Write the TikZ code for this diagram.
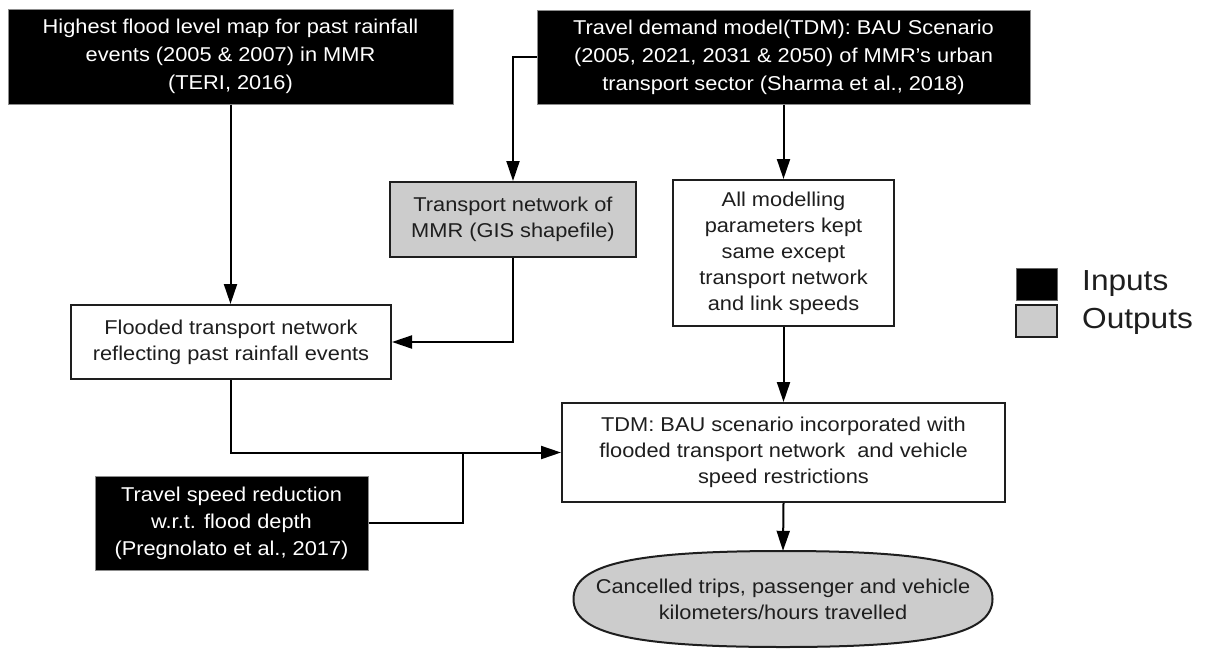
\documentclass[tikz,border=0pt]{standalone}
\usepackage{fontspec}
\setmainfont[FakeStretch=1.09]{Liberation Sans}
\usetikzlibrary{arrows.meta,shapes.geometric,calc}
\definecolor{boxgray}{HTML}{CCCCCC}
\definecolor{txt}{HTML}{1E1E1E}
\tikzset{
  base/.style={inner sep=0pt, align=center, font=\fontsize{20}{26}\selectfont},
  inbox/.style={base, fill=black, draw=black!45, line width=1pt, text=white, font=\fontsize{20}{28}\selectfont},
  wbox/.style={base, fill=white, draw=txt, line width=2pt, text=txt},
  gbox/.style={base, fill=boxgray, draw=txt, line width=2pt, text=txt},
  conn/.style={line width=2pt, draw=black},
  arr/.style={conn, -{Triangle[length=20pt,width=13pt]}}
}
\begin{document}
\begin{tikzpicture}[x=1pt,y=-1pt]
\useasboundingbox (0,0) rectangle (1207,648);
\fill[white] (0,0) rectangle (1207,648);

\node[inbox, minimum width=445pt, minimum height=95pt] (A) at (230.5,56.5)
  {Highest flood level map for past rainfall\\events (2005 \& 2007) in MMR\\(TERI, 2016)};
\node[inbox, minimum width=493pt, minimum height=94pt] (B) at (783.5,57)
  {Travel demand model(TDM): BAU Scenario\\(2005, 2021, 2031 \& 2050) of MMR's urban\\transport sector (Sharma et al., 2018)};
\node[gbox, minimum width=246pt, minimum height=75pt] (C) at (513,219.5)
  {Transport network of\\MMR (GIS shapefile)};
\node[wbox, minimum width=221pt, minimum height=146pt] (D) at (783.5,253)
  {All modelling\\parameters kept\\same except\\transport network\\and link speeds};
\node[wbox, minimum width=320pt, minimum height=74pt] (F) at (231,342)
  {Flooded transport network\\reflecting past rainfall events};
\node[wbox, minimum width=443pt, minimum height=99pt] (E) at (783.5,452.5)
  {TDM: BAU scenario incorporated with\\flooded transport network\ \ and vehicle\\speed restrictions};
\node[inbox, minimum width=273pt, minimum height=94pt, font=\fontsize{20}{27}\selectfont] (G) at (231.5,523)
  {Travel speed reduction\\w.r.t. flood depth\\(Pregnolato et al., 2017)};
\draw[fill=boxgray, draw=txt, line width=2pt]
  (573.5,599) .. controls (573.5,564.4) and (632.2,551) .. (783,551)
  .. controls (933.8,551) and (992.5,564.4) .. (992.5,599)
  .. controls (992.5,633.6) and (933.8,647) .. (783,647)
  .. controls (632.2,647) and (573.5,633.6) .. (573.5,599) -- cycle;
\node[base, text=txt, minimum width=419pt, minimum height=96pt] (H) at (783,599)
  {Cancelled trips, passenger and vehicle\\kilometers/hours travelled};

% legend
\node[fill=black, draw=black!60, line width=1pt, minimum width=41pt, minimum height=32pt, inner sep=0pt] (LI) at (1036.5,284) {};
\node[fill=boxgray, draw=txt, line width=2pt, minimum width=41pt, minimum height=32pt, inner sep=0pt] (LO) at (1036.5,321) {};
\node[base, anchor=west, text=txt, font=\fontsize{29}{29}\selectfont] (LIt) at (1082,284) {Inputs};
\node[base, anchor=west, text=txt, font=\fontsize{29}{29}\selectfont] (LOt) at (1082,321) {Outputs};

% connectors
\draw[arr] (A.south) -- (A.south |- F.north);
\draw[arr] (B.west) -| (C.north);
\draw[arr] (B.south) -- (D.north);
\draw[arr] (C.south) |- (F.east);
\draw[arr] (D.south) -- (E.north);
\draw[arr] (F.south) |- (E.west);
\path (E.west) ++(-98,0) coordinate (j);
\draw[conn] (G.east) -| (j);
\draw[arr] (E.south) -- (H.north);
\end{tikzpicture}
\end{document}
